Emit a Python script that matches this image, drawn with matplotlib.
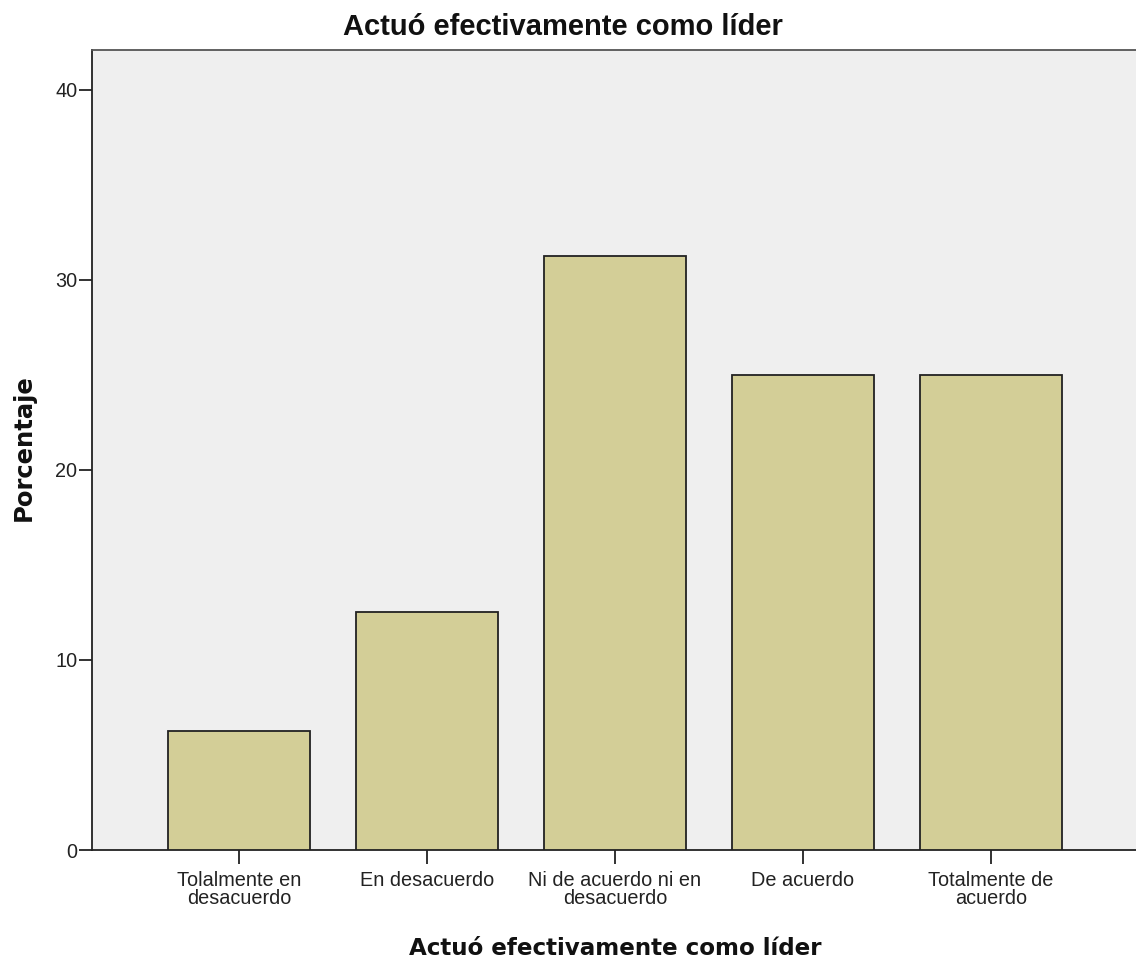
import matplotlib
matplotlib.use("Agg")
import matplotlib.pyplot as plt

categories = ["Tolalmente en\ndesacuerdo", "En desacuerdo", "Ni de acuerdo ni en\ndesacuerdo",
              "De acuerdo", "Totalmente de\nacuerdo"]
values = [6.25, 12.5, 31.25, 25.0, 25.0]
yticks = [0, 10, 20, 30, 40]
title = "Actuó efectivamente como líder"
xlabel = "Actuó efectivamente como líder"
ylabel = "Porcentaje"

plt.rcParams['font.family'] = ['Liberation Sans', 'DejaVu Sans']

W, H = 1136, 961
fig = plt.figure(figsize=(W / 100, H / 100), dpi=100)
ax = fig.add_axes([92 / W, 111 / H, 1 - 92 / W, 800 / H])
ax.set_facecolor('#EFEFEF')

x = list(range(len(categories)))
ax.bar(x, values, width=0.753, color='#D3CE97', edgecolor='#222222', linewidth=1.3, zorder=3)

ax.set_xlim(-0.782, 4.771)
ax.set_ylim(0, 42.1)
ax.set_yticks(yticks)
ax.set_yticklabels([str(t) for t in yticks], fontsize=14.3, color='#222222')
ax.set_xticks(x)
ax.set_xticklabels(categories, fontsize=14.3, color='#222222', linespacing=0.95)

ax.spines['right'].set_visible(False)
for s in ['left', 'bottom', 'top']:
    ax.spines[s].set_color('#222222')
    ax.spines[s].set_linewidth(1.3)
ax.spines['top'].set_color('#555555')
ax.tick_params(axis='y', length=9.5, width=1.3, color='#222222', pad=1)
ax.tick_params(axis='x', length=10, width=1.3, color='#222222', pad=5)

fig.text(563 / W, 1 - 35 / H, title, fontsize=21, fontweight='bold', color='#111111',
         ha='center', va='baseline')
fig.text(615 / W, 1 - 955 / H, xlabel, fontsize=16.6, fontweight='bold', color='#111111',
         ha='center', va='baseline', family=['DejaVu Sans'])
fig.text(24 / W, 1 - 448 / H, ylabel, fontsize=17.5, fontweight='bold', color='#111111',
         ha='center', va='center', rotation=90, family=['DejaVu Sans'])

fig.savefig("out.png", dpi=100)
